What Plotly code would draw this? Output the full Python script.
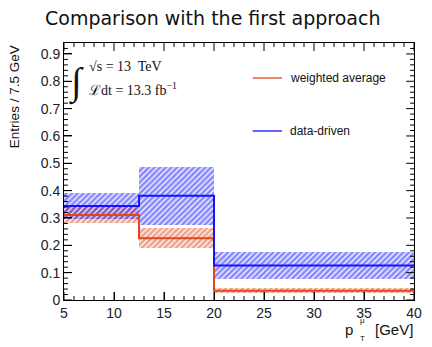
import plotly.graph_objects as go

# Binning in muon pT [GeV]
bin_edges = [5, 12.5, 20, 40]

# Weighted-average estimate and its uncertainty
wavg_values = [0.311, 0.226, 0.034]
wavg_errors = [0.028, 0.037, 0.009]

# Data-driven estimate and its uncertainty
dd_values = [0.344, 0.381, 0.126]
dd_errors = [0.048, 0.105, 0.050]

x_ticks = [5, 10, 15, 20, 25, 30, 35, 40]
y_ticks = [0, 0.1, 0.2, 0.3, 0.4, 0.5, 0.6, 0.7, 0.8, 0.9]
y_tick_labels = ["0", "0.1", "0.2", "0.3", "0.4", "0.5", "0.6", "0.7", "0.8", "0.9"]
x_range = [5, 40]
y_range = [0, 0.94]

RED = "#e2461c"
BLUE = "#1414ff"

centers = [(a + b) / 2 for a, b in zip(bin_edges[:-1], bin_edges[1:])]
widths = [b - a for a, b in zip(bin_edges[:-1], bin_edges[1:])]


def step(values):
    xs, ys = [], []
    for i, v in enumerate(values):
        xs += [bin_edges[i], bin_edges[i + 1]]
        ys += [v, v]
    return xs, ys


def band(values, errors, color):
    return go.Bar(
        x=centers,
        y=[2 * e for e in errors],
        base=[v - e for v, e in zip(values, errors)],
        width=widths,
        marker=dict(
            color="rgba(0,0,0,0)",
            line=dict(width=0),
            pattern=dict(shape="/", fgcolor=color, bgcolor="rgba(0,0,0,0)",
                         size=4, solidity=0.7, fillmode="overlay"),
        ),
        showlegend=False,
        hoverinfo="skip",
    )


fig = go.Figure()
fig.add_trace(band(wavg_values, wavg_errors, RED))
fig.add_trace(band(dd_values, dd_errors, BLUE))

for vals, col in [(wavg_values, RED), (dd_values, BLUE)]:
    sx, sy = step(vals)
    fig.add_trace(go.Scatter(x=sx, y=sy, mode="lines",
                             line=dict(color=col, width=2),
                             showlegend=False, hoverinfo="skip"))

TICKFONT = dict(family="Liberation Sans, Arial", size=14, color="#222")

fig.update_xaxes(range=x_range, tickvals=x_ticks,
                 showline=True, linecolor="black", linewidth=1, mirror=True,
                 ticks="inside", ticklen=8, tickcolor="black", tickwidth=1,
                 showgrid=False, zeroline=False, tickfont=TICKFONT)
fig.update_yaxes(range=y_range, tickvals=y_ticks, ticktext=y_tick_labels,
                 showline=True, linecolor="black", linewidth=1, mirror=True,
                 ticks="inside", ticklen=8, tickcolor="black", tickwidth=1,
                 showgrid=False, zeroline=False, tickfont=TICKFONT)

W, H = 432, 347
L, R, T, B = 64, 10, 43, 47
pw, ph = W - L - R, H - T - B


def px(x):
    return (x - L) / pw


def py(y):
    return 1 - (y - T) / ph


def label(text, x, y, size, family="Liberation Sans, Arial", xanchor="center",
          **kw):
    return dict(text=text, x=px(x), y=py(y), xref="paper", yref="paper",
                xanchor=xanchor, yanchor="middle", showarrow=False,
                font=dict(family=family, size=size, color="#111"), **kw)


annotations = [
    label("Comparison with the first approach", 216, 18, 19, family="DejaVu Sans"),
    label("Entries / 7.5 GeV", 13, 97, 13.5, textangle=-90),
    label("∫", 77, 82, 38, family="Liberation Serif"),
    label("√s = 13  TeV", 88, 66, 14, family="Liberation Serif", xanchor="left"),
    label("ℒdt = 13.3 fb<sup>−1</sup>", 88, 89, 14, family="Liberation Serif",
          xanchor="left"),
    label("weighted average", 293, 78, 12, xanchor="left"),
    label("data-driven", 293, 131, 12, xanchor="left"),
    label("p", 362, 329, 15, xanchor="right"),
    label("μ", 365, 320, 8, xanchor="left"),
    label("T", 365, 338, 8, xanchor="left"),
    label("[GeV]", 423, 329, 15, xanchor="right"),
]

# Frame ticks on all four sides (major + minor), placed in axis coordinates
MAJOR, MINOR = 8, 4
tick_line = dict(color="black", width=1)
shapes = []
x_minor = [x_range[0] + i for i in range(int(x_range[1] - x_range[0]) + 1)]
for xv in x_minor:
    ln = MAJOR if xv in x_ticks else MINOR
    shapes.append(dict(type="line", xref="x", yref="paper", x0=xv, x1=xv,
                       y0=0, y1=ln / ph, line=tick_line, layer="above"))
    shapes.append(dict(type="line", xref="x", yref="paper", x0=xv, x1=xv,
                       y0=1, y1=1 - ln / ph, line=tick_line, layer="above"))
y_minor = [round(0.02 * i, 2) for i in range(int(y_range[1] / 0.02) + 1)]
for yv in y_minor:
    ln = MAJOR if any(abs(yv - t) < 1e-9 for t in y_ticks) else MINOR
    shapes.append(dict(type="line", xref="paper", yref="y", x0=0, x1=ln / pw,
                       y0=yv, y1=yv, line=tick_line, layer="above"))
    shapes.append(dict(type="line", xref="paper", yref="y", x0=1, x1=1 - ln / pw,
                       y0=yv, y1=yv, line=tick_line, layer="above"))

# Legend keys
shapes += [
    dict(type="line", xref="paper", yref="paper",
         x0=px(257), x1=px(287), y0=py(78), y1=py(78),
         line=dict(color=RED, width=1.3)),
    dict(type="line", xref="paper", yref="paper",
         x0=px(257), x1=px(287), y0=py(131), y1=py(131),
         line=dict(color=BLUE, width=1.3)),
]

fig.update_layout(
    annotations=annotations,
    shapes=shapes,
    width=W, height=H,
    margin=dict(l=L, r=R, t=T, b=B),
    paper_bgcolor="white", plot_bgcolor="white",
    barmode="overlay", bargap=0,
    showlegend=False,
)

fig.write_html("out.html")
